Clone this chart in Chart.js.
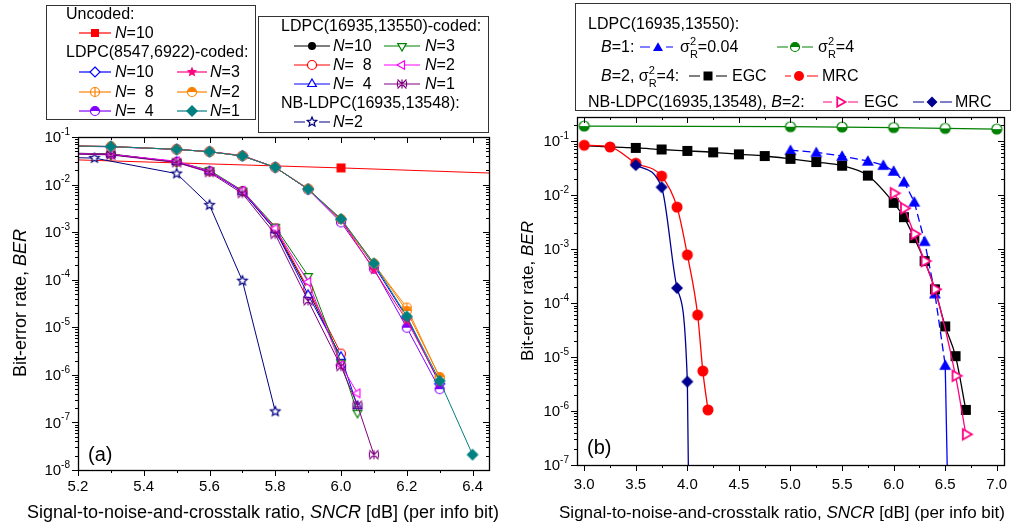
<!DOCTYPE html>
<html>
<head>
<meta charset="utf-8">
<script src="https://cdn.jsdelivr.net/npm/chart.js@4.4.0/dist/chart.umd.min.js"></script>
<style>
  html, body { margin: 0; padding: 0; background: #fff; }
  #wrap { position: relative; width: 1012px; height: 527px; overflow: hidden; }
  #wrap canvas { position: absolute; top: 0; }
</style>
</head>
<body>
<div id="wrap">
  <canvas id="cA" width="506" height="527" style="left:0"></canvas>
  <canvas id="cB" width="506" height="527" style="left:506px"></canvas>
</div>
<script>
/* ================= DADOS (a) ================= */
const ticksXA = [5.2, 5.4, 5.6, 5.8, 6.0, 6.2, 6.4];
const expA = [-1, -2, -3, -4, -5, -6, -7, -8];

const snrUncoded = [5.2, 6.0, 6.45];
const berUncoded = [0.033, 0.0224, 0.0175];

// LDPC(8547,6922)
const snrA = [5.1, 5.3, 5.5, 5.6, 5.7, 5.8, 5.9, 6.0, 6.1, 6.2, 6.3];
const snrA1 = [5.1, 5.3, 5.5, 5.6, 5.7, 5.8, 5.9, 6.0, 6.1, 6.2, 6.3, 6.4];
const berA_N10 = [0.066, 0.063, 0.055, 0.049, 0.040, 0.023, 0.0080, 0.0018, 2.0e-4, 1.6e-5, 6.5e-7];
const berA_N8  = [0.066, 0.063, 0.055, 0.049, 0.040, 0.023, 0.0082, 0.0017, 2.1e-4, 2.6e-5, 8.8e-7];
const berA_N4  = [0.066, 0.062, 0.055, 0.049, 0.040, 0.023, 0.0079, 0.0016, 1.7e-4, 9.8e-6, 5.0e-7];
const berA_N3  = [0.066, 0.063, 0.055, 0.049, 0.041, 0.023, 0.0081, 0.0018, 1.6e-4, 1.4e-5, 7.0e-7];
const berA_N2  = [0.066, 0.063, 0.055, 0.049, 0.040, 0.023, 0.0080, 0.0019, 2.2e-4, 2.2e-5, 9.0e-7];
const berA_N1  = [0.066, 0.063, 0.055, 0.049, 0.040, 0.023, 0.0080, 0.0019, 2.2e-4, 1.7e-5, 7.5e-7, 2.1e-8];

// LDPC(16935,13550)
const snrB = [5.1, 5.3, 5.5, 5.6, 5.7, 5.8, 5.9, 6.0];
const snrB2 = [5.1, 5.3, 5.5, 5.6, 5.7, 5.8, 5.9, 6.0, 6.05];
const snrB1 = [5.1, 5.3, 5.5, 5.6, 5.7, 5.8, 5.9, 6.0, 6.05, 6.1];
const berB_N10 = [0.047, 0.044, 0.030, 0.019, 0.0072, 0.0011, 5.9e-5, 2.2e-6];
const berB_N8  = [0.047, 0.043, 0.030, 0.019, 0.0073, 0.0012, 6.5e-5, 2.8e-6];
const berB_N4  = [0.046, 0.043, 0.030, 0.019, 0.0071, 0.0011, 4.8e-5, 2.4e-6, 2.2e-7];
const berB_N3  = [0.046, 0.043, 0.030, 0.020, 0.0075, 0.0013, 1.2e-4, 1.8e-6, 1.6e-7];
const berB_N2  = [0.046, 0.043, 0.031, 0.019, 0.0074, 0.0012, 9.0e-5, 1.6e-6, 4.1e-7];
const berB_N1  = [0.046, 0.042, 0.029, 0.018, 0.0065, 9.0e-4, 3.6e-5, 1.5e-6, 2.3e-7, 2.1e-8];

// NB-LDPC(16935,13548)
const snrNB = [5.1, 5.25, 5.5, 5.6, 5.7, 5.8];
const berNB_N2 = [0.038, 0.036, 0.017, 0.0037, 9.5e-5, 1.7e-7];

/* ================= DADOS (b) ================= */
const ticksXB = [3.0, 3.5, 4.0, 4.5, 5.0, 5.5, 6.0, 6.5, 7.0];
const expB = [-1, -2, -3, -4, -5, -6, -7];

const snrG = [3.0, 5.0, 5.5, 6.0, 6.5, 7.0];
const berB1_s4 = [0.19, 0.185, 0.182, 0.178, 0.172, 0.167];

const snrBlue = [5.0, 5.25, 5.5, 5.75, 5.9, 6.0, 6.1, 6.2, 6.3, 6.4, 6.5, 6.54];
const berB1_s004 = [0.068, 0.062, 0.053, 0.043, 0.036, 0.028, 0.0177, 0.0075, 0.0014, 1.5e-4, 7.1e-6, 1e-9];

const snrEGC = [3.0, 3.25, 3.5, 3.75, 4.0, 4.25, 4.5, 4.75, 5.0, 5.25, 5.5, 5.75, 6.0, 6.1, 6.2, 6.3, 6.4, 6.5, 6.6, 6.7];
const berB2_EGC = [0.083, 0.078, 0.075, 0.070, 0.066, 0.062, 0.057, 0.053, 0.047, 0.041, 0.035, 0.023, 0.0072, 0.0039, 0.0016, 6.0e-4, 1.8e-4, 3.7e-5, 1.04e-5, 1.05e-6];

const snrMRC = [3.0, 3.25, 3.5, 3.75, 3.9, 4.0, 4.1, 4.15, 4.2];
const berB2_MRC = [0.084, 0.078, 0.039, 0.0225, 0.0060, 7.8e-4, 6.0e-5, 5.5e-6, 1.05e-6];

const snrNB_EGC = [6.0, 6.1, 6.2, 6.3, 6.4, 6.6, 6.7];
const berNB_EGC = [0.0108, 0.0057, 0.0019, 6.0e-4, 1.8e-4, 4.5e-6, 3.7e-7];

const snrNB_MRC = [3.5, 3.75, 3.9, 4.0, 4.02];
const berNB_MRC = [0.036, 0.014, 1.9e-4, 3.5e-6, 1e-9];

/* ================= ESTILO ================= */
const F = "'Liberation Sans', Arial, sans-serif";

function fnt(size, it) {
  return (it ? "italic " : "") + size + "px " + F;
}

/* ================= MARCADORES ================= */
function triPath(ctx, x, y, r, rot) {
  for (let k = 0; k < 3; k++) {
    const a = (-90 + rot + k * 120) * Math.PI / 180;
    const px = x + r * Math.cos(a), py = y + r * Math.sin(a);
    if (k === 0) ctx.moveTo(px, py); else ctx.lineTo(px, py);
  }
  ctx.closePath();
}

function starPath(ctx, x, y, r) {
  for (let k = 0; k < 10; k++) {
    const rr = k % 2 === 0 ? r : r * 0.45;
    const a = (-90 + k * 36) * Math.PI / 180;
    const px = x + rr * Math.cos(a), py = y + rr * Math.sin(a);
    if (k === 0) ctx.moveTo(px, py); else ctx.lineTo(px, py);
  }
  ctx.closePath();
}

function drawMarker(ctx, type, x, y, r, color) {
  ctx.save();
  ctx.setLineDash([]);
  ctx.lineWidth = 1.2;
  ctx.strokeStyle = color;
  ctx.fillStyle = color;
  ctx.beginPath();
  switch (type) {
    case "square":
      ctx.fillRect(x - r, y - r, 2 * r, 2 * r);
      break;
    case "circle":
      ctx.arc(x, y, r, 0, 2 * Math.PI);
      ctx.fill();
      break;
    case "ocircle":
    case "circlePlus":
      ctx.arc(x, y, r, 0, 2 * Math.PI);
      ctx.fillStyle = "#fff";
      ctx.fill();
      ctx.stroke();
      if (type === "circlePlus") {
        ctx.beginPath();
        ctx.moveTo(x - r, y); ctx.lineTo(x + r, y);
        ctx.moveTo(x, y - r); ctx.lineTo(x, y + r);
        ctx.stroke();
      }
      break;
    case "halfTop":
    case "halfBottom":
      ctx.arc(x, y, r, 0, 2 * Math.PI);
      ctx.fillStyle = "#fff";
      ctx.fill();
      ctx.beginPath();
      if (type === "halfTop") ctx.arc(x, y, r, Math.PI, 2 * Math.PI);
      else ctx.arc(x, y, r, 0, Math.PI);
      ctx.closePath();
      ctx.fillStyle = color;
      ctx.fill();
      ctx.beginPath();
      ctx.arc(x, y, r, 0, 2 * Math.PI);
      ctx.stroke();
      break;
    case "diamond":
    case "odiamond":
      ctx.moveTo(x, y - r); ctx.lineTo(x + r, y); ctx.lineTo(x, y + r); ctx.lineTo(x - r, y);
      ctx.closePath();
      if (type === "odiamond") { ctx.fillStyle = "#fff"; ctx.fill(); ctx.stroke(); }
      else ctx.fill();
      break;
    case "tri":
      triPath(ctx, x, y + r * 0.2, r * 1.15, 0);
      ctx.fill();
      break;
    case "otri":
    case "otriDown":
    case "otriLeft":
    case "otriRight": {
      const rot = { otri: 0, otriDown: 180, otriLeft: -90, otriRight: 90 }[type];
      triPath(ctx, x, y, r * 1.1, rot);
      ctx.fillStyle = "#fff";
      ctx.fill();
      if (type === "otriRight") ctx.lineWidth = 1.8;
      ctx.stroke();
      break;
    }
    case "star5":
      starPath(ctx, x, y, r * 1.1);
      ctx.fill();
      break;
    case "ostar5":
      starPath(ctx, x, y, r * 1.1);
      ctx.fillStyle = "#fff";
      ctx.fill();
      ctx.stroke();
      break;
    case "xstar":
      ctx.moveTo(x - r, y - r); ctx.lineTo(x + r, y + r);
      ctx.moveTo(x + r, y - r); ctx.lineTo(x - r, y + r);
      ctx.moveTo(x - r, y - r * 0.6); ctx.lineTo(x - r, y + r * 0.6);
      ctx.moveTo(x + r, y - r * 0.6); ctx.lineTo(x + r, y + r * 0.6);
      ctx.moveTo(x, y - r); ctx.lineTo(x, y + r);
      ctx.stroke();
      break;
  }
  ctx.restore();
}

function makeMarker(type, r, color) {
  const s = 2 * Math.ceil(r + 2);
  const c = document.createElement("canvas");
  c.width = s; c.height = s;
  drawMarker(c.getContext("2d"), type, s / 2, s / 2, r, color);
  return c;
}

/* ================= TEXTO RICO ================= */
function richWidth(ctx, segs, size) {
  let w = 0;
  segs.forEach(s => {
    if (typeof s === "string") { ctx.font = fnt(size); w += ctx.measureText(s).width; }
    else if (s.i) { ctx.font = fnt(size, true); w += ctx.measureText(s.i).width; }
    else {
      ctx.font = fnt(Math.round(size * 0.68));
      w += Math.max(ctx.measureText(s.sup || "").width, ctx.measureText(s.sub || "").width);
    }
  });
  return w;
}

function drawRich(ctx, x, y, segs, size, align) {
  const w = richWidth(ctx, segs, size);
  if (align === "center") x -= w / 2;
  if (align === "right") x -= w;
  ctx.textAlign = "left";
  ctx.textBaseline = "middle";
  ctx.fillStyle = "#000";
  segs.forEach(s => {
    if (typeof s === "string") {
      ctx.font = fnt(size);
      ctx.fillText(s, x, y);
      x += ctx.measureText(s).width;
    } else if (s.i) {
      ctx.font = fnt(size, true);
      ctx.fillText(s.i, x, y);
      x += ctx.measureText(s.i).width;
    } else {
      ctx.font = fnt(Math.round(size * 0.68));
      let ww = 0;
      if (s.sup) { ctx.fillText(s.sup, x, y - size * 0.4); ww = ctx.measureText(s.sup).width; }
      if (s.sub) { ctx.fillText(s.sub, x, y + size * 0.42); ww = Math.max(ww, ctx.measureText(s.sub).width); }
      x += ww;
    }
  });
}

/* ================= EIXOS ================= */
function drawAxes(chart, ticksX, exps, labelGap) {
  const { ctx, chartArea: a, scales: { x, y } } = chart;
  ctx.save();
  ctx.strokeStyle = "#000";
  ctx.lineWidth = 1;

  // eixo x: maiores e menores
  const step = (ticksX[1] - ticksX[0]) / 2;
  for (let k = -2; k <= ticksX.length * 2; k++) {
    const v = ticksX[0] + k * step;
    const px = Math.round(x.getPixelForValue(v)) + 0.5;
    if (px < a.left || px > a.right + 1) continue;
    const len = k % 2 === 0 ? 6 : 3;
    ctx.beginPath();
    ctx.moveTo(px, a.bottom); ctx.lineTo(px, a.bottom + len);
    ctx.moveTo(px, a.top); ctx.lineTo(px, a.top + len);
    ctx.stroke();
  }
  ctx.fillStyle = "#000";
  ctx.font = fnt(15);
  ctx.textAlign = "center";
  ctx.textBaseline = "middle";
  ticksX.forEach(v => {
    ctx.fillText(v.toFixed(1), x.getPixelForValue(v), a.bottom + labelGap);
  });

  // eixo y logaritmico
  const ymin = y.min, ymax = y.max;
  for (let e = Math.floor(Math.log10(ymin)); e <= Math.ceil(Math.log10(ymax)); e++) {
    for (let m = 1; m <= 9; m++) {
      const v = m * Math.pow(10, e);
      if (v < ymin * 0.999 || v > ymax * 1.001) continue;
      const py = Math.round(y.getPixelForValue(v)) + 0.5;
      const len = m === 1 ? 6 : 3;
      ctx.beginPath();
      ctx.moveTo(a.left - len, py); ctx.lineTo(a.left, py);
      ctx.moveTo(a.right - len, py); ctx.lineTo(a.right, py);
      ctx.stroke();
    }
  }
  exps.forEach(e => {
    const py = y.getPixelForValue(Math.pow(10, e));
    drawRich(ctx, a.left - 8, py + 1, ["10", { sup: String(e) }], 15, "right");
  });

  // moldura
  ctx.lineWidth = 1.3;
  ctx.strokeRect(a.left + 0.5, a.top + 0.5, a.right - a.left, a.bottom - a.top);
  ctx.restore();
}

function drawYTitle(ctx, x, y, size) {
  ctx.save();
  ctx.translate(x, y);
  ctx.rotate(-Math.PI / 2);
  drawRich(ctx, 0, 0, ["Bit-error rate, ", { i: "BER" }], size, "center");
  ctx.restore();
}

function drawXTitle(ctx, x, y, size) {
  drawRich(ctx, x, y, ["Signal-to-noise-and-crosstalk ratio, ", { i: "SNCR" }, " [dB] (per info bit)"], size, "center");
}

/* ================= LEGENDAS ================= */
function legItem(ctx, x1, x2, mx, y, color, mk, r, gap, dash) {
  ctx.save();
  ctx.strokeStyle = color;
  ctx.lineWidth = 1.2;
  if (dash) ctx.setLineDash(dash);
  ctx.beginPath();
  if (gap) {
    ctx.moveTo(x1, y); ctx.lineTo(mx - gap, y);
    ctx.moveTo(mx + gap, y); ctx.lineTo(x2, y);
  } else {
    ctx.moveTo(x1, y); ctx.lineTo(x2, y);
  }
  ctx.stroke();
  ctx.restore();
  drawMarker(ctx, mk, mx, y, r, color);
}

function legBox(ctx, x1, y1, x2, y2) {
  ctx.save();
  ctx.fillStyle = "#fff";
  ctx.fillRect(x1, y1, x2 - x1, y2 - y1);
  ctx.strokeStyle = "#333";
  ctx.lineWidth = 1;
  ctx.strokeRect(x1 + 0.5, y1 + 0.5, x2 - x1, y2 - y1);
  ctx.restore();
}

const decorA = {
  id: "decorA",
  afterDraw(chart) {
    const ctx = chart.ctx;
    drawAxes(chart, ticksXA, expA, 17);
    drawYTitle(ctx, 21, 303, 18);
    drawXTitle(ctx, 263, 513, 18);
    drawRich(ctx, 88, 455, ["(a)"], 20, "left");

    // caixa 1
    legBox(ctx, 46, 5, 255, 119);
    const T = 16;
    drawRich(ctx, 66, 15, ["Uncoded:"], T);
    legItem(ctx, 79, 111, 95, 33, "#ff0000", "square", 4);
    drawRich(ctx, 115, 34, [{ i: "N" }, "=10"], T);
    drawRich(ctx, 66, 53, ["LDPC(8547,6922)-coded:"], T);
    legItem(ctx, 79, 111, 95, 72, "#0000ff", "odiamond", 5);
    drawRich(ctx, 115, 73, [{ i: "N" }, "=10"], T);
    legItem(ctx, 79, 111, 95, 92, "#ff8000", "circlePlus", 4.5);
    drawRich(ctx, 115, 93, [{ i: "N" }, "=  8"], T);
    legItem(ctx, 79, 111, 95, 111, "#8000ff", "halfTop", 4.5);
    drawRich(ctx, 115, 112, [{ i: "N" }, "=  4"], T);
    legItem(ctx, 177, 207, 192, 72, "#ff0080", "star5", 5);
    drawRich(ctx, 210, 73, [{ i: "N" }, "=3"], T);
    legItem(ctx, 177, 207, 192, 92, "#ff8000", "halfTop", 4.5);
    drawRich(ctx, 210, 93, [{ i: "N" }, "=2"], T);
    legItem(ctx, 177, 207, 192, 111, "#008080", "diamond", 6);
    drawRich(ctx, 210, 112, [{ i: "N" }, "=1"], T);

    // caixa 2
    legBox(ctx, 258, 16, 488, 132);
    drawRich(ctx, 281, 27, ["LDPC(16935,13550)-coded:"], T);
    legItem(ctx, 294, 330, 312, 46, "#000000", "circle", 4);
    drawRich(ctx, 333, 47, [{ i: "N" }, "=10"], T);
    legItem(ctx, 294, 330, 312, 65, "#ff0000", "ocircle", 4.5);
    drawRich(ctx, 333, 66, [{ i: "N" }, "=  8"], T);
    legItem(ctx, 294, 330, 312, 84, "#0000ff", "otri", 4.5);
    drawRich(ctx, 333, 85, [{ i: "N" }, "=  4"], T);
    legItem(ctx, 384, 420, 402, 46, "#008000", "otriDown", 4.5);
    drawRich(ctx, 425, 47, [{ i: "N" }, "=3"], T);
    legItem(ctx, 384, 420, 402, 65, "#ff00ff", "otriLeft", 4.5);
    drawRich(ctx, 425, 66, [{ i: "N" }, "=2"], T);
    legItem(ctx, 384, 420, 402, 84, "#800080", "xstar", 4.5);
    drawRich(ctx, 425, 85, [{ i: "N" }, "=1"], T);
    drawRich(ctx, 281, 104, ["NB-LDPC(16935,13548):"], T);
    legItem(ctx, 294, 330, 312, 122, "#000080", "ostar5", 4.5, 7);
    drawRich(ctx, 333, 123, [{ i: "N" }, "=2"], T);
  }
};

const decorB = {
  id: "decorB",
  afterDraw(chart) {
    const ctx = chart.ctx;
    drawAxes(chart, ticksXB, expB, 20);
    drawYTitle(ctx, 22, 291, 17);
    drawXTitle(ctx, 276, 513, 17);
    drawRich(ctx, 81, 448, ["(b)"], 20, "left");

    const o = 506, T = 16;
    legBox(ctx, 575 - o, 3, 1010 - o, 110);
    drawRich(ctx, 588 - o, 25, ["LDPC(16935,13550):"], T);
    drawRich(ctx, 601 - o, 48, [{ i: "B" }, "=1:"], T);
    legItem(ctx, 640 - o, 673 - o, 658 - o, 47, "#0000ff", "tri", 5, 8);
    drawRich(ctx, 680 - o, 48, ["σ", { sup: "2", sub: "R" }, "=0.04"], T);
    legItem(ctx, 777 - o, 813 - o, 795 - o, 47, "#008000", "halfTop", 4.5, 7);
    drawRich(ctx, 818 - o, 48, ["σ", { sup: "2", sub: "R" }, "=4"], T);
    drawRich(ctx, 601 - o, 77, [{ i: "B" }, "=2, σ", { sup: "2", sub: "R" }, "=4:"], T);
    legItem(ctx, 689 - o, 727 - o, 708 - o, 76, "#000000", "square", 4.5, 8);
    drawRich(ctx, 732 - o, 77, ["EGC"], T);
    legItem(ctx, 785 - o, 818 - o, 799 - o, 76, "#ff0000", "circle", 5, 8);
    drawRich(ctx, 822 - o, 77, ["MRC"], T);
    drawRich(ctx, 588 - o, 103, ["NB-LDPC(16935,13548), ", { i: "B" }, "=2:"], T);
    legItem(ctx, 823 - o, 858 - o, 840 - o, 102, "#ff0080", "otriRight", 5, 8);
    drawRich(ctx, 864 - o, 103, ["EGC"], T);
    legItem(ctx, 913 - o, 952 - o, 932 - o, 102, "#000090", "diamond", 5.5, 8);
    drawRich(ctx, 955 - o, 103, ["MRC"], T);
  }
};

/* ================= SERIES ================= */
function inside(r, skip) {
  return c => {
    const p = c.raw;
    if (!p) return r;
    if (skip && c.dataIndex < skip) return 0;
    const sx = c.chart.options.scales.x, sy = c.chart.options.scales.y;
    return (p.x > sx.min && p.x < sx.max && p.y >= sy.min && p.y <= sy.max) ? r : 0;
  };
}

function serie(xs, ys, color, mk, r, extra) {
  return Object.assign({
    data: xs.map((v, i) => ({ x: v, y: ys[i] })),
    borderColor: color,
    backgroundColor: color,
    borderWidth: 1,
    pointStyle: makeMarker(mk, r, color),
    pointRadius: inside(r),
    clip: 0,
    tension: 0,
    fill: false
  }, extra || {});
}

const smooth = { cubicInterpolationMode: "monotone", borderWidth: 1.3 };

const baseOpts = (pad, xr, yr) => ({
  responsive: false,
  animation: false,
  events: [],
  devicePixelRatio: 1,
  layout: { padding: pad },
  plugins: { legend: { display: false }, tooltip: { enabled: false } },
  scales: {
    x: { type: "linear", min: xr[0], max: xr[1], display: false },
    y: { type: "logarithmic", min: yr[0], max: yr[1], display: false }
  }
});

/* ================= GRAFICOS ================= */
new Chart(document.getElementById("cA"), {
  type: "line",
  data: {
    datasets: [
      serie(snrA1, berA_N1, "#008080", "diamond", 6),
      serie(snrA, berA_N2, "#ff8000", "halfTop", 4.5),
      serie(snrA, berA_N3, "#ff0080", "star5", 5),
      serie(snrA, berA_N4, "#8000ff", "halfTop", 4.5),
      serie(snrA, berA_N8, "#ff8000", "circlePlus", 4.5),
      serie(snrA, berA_N10, "#0000ff", "odiamond", 5),
      serie(snrB1, berB_N1, "#800080", "xstar", 4.5),
      serie(snrB2, berB_N2, "#ff00ff", "otriLeft", 4.5),
      serie(snrB2, berB_N3, "#008000", "otriDown", 4.5),
      serie(snrB2, berB_N4, "#0000ff", "otri", 4.5),
      serie(snrB, berB_N8, "#ff0000", "ocircle", 4.5),
      serie(snrB, berB_N10, "#000000", "circle", 4),
      serie(snrNB, berNB_N2, "#000080", "ostar5", 4.5),
      serie(snrUncoded, berUncoded, "#ff0000", "square", 4.5)
    ]
  },
  options: baseOpts({ left: 78, right: 17, top: 137, bottom: 57 }, [5.2, 6.45], [1e-8, 1e-1]),
  plugins: [decorA]
});

const nBlue = snrBlue.length;

new Chart(document.getElementById("cB"), {
  type: "line",
  data: {
    datasets: [
      serie(snrNB_MRC, berNB_MRC, "#000090", "diamond", 6, smooth),
      serie(snrMRC, berB2_MRC, "#ff0000", "circle", 5.5, smooth),
      serie(snrNB_EGC, berNB_EGC, "#ff0080", "otriRight", 5.5, smooth),
      serie(snrEGC, berB2_EGC, "#000000", "square", 5, Object.assign({ pointRadius: inside(5, 2) }, smooth)),
      serie(snrBlue, berB1_s004, "#0000ff", "tri", 6, {
        borderWidth: 1.3,
        segment: { borderDash: c => c.p1DataIndex >= nBlue - 1 ? [] : [8, 4] }
      }),
      serie(snrG, berB1_s4, "#008000", "halfBottom", 5, { borderWidth: 1.2 })
    ]
  },
  options: baseOpts({ left: 71, right: 8, top: 117, bottom: 62 }, [2.93, 7.07], [1e-7, 0.28]),
  plugins: [decorB]
});
</script>
</body>
</html>
